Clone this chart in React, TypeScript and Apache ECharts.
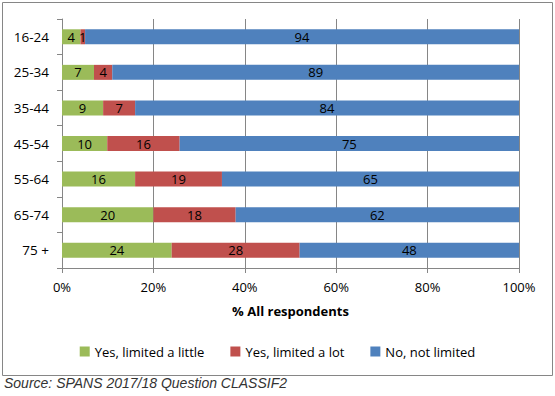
import React, { useEffect, useRef } from "react";
import * as echarts from "echarts";

const categories = ["16-24", "25-34", "35-44", "45-54", "55-64", "65-74", "75 +"];
const limitedLittle = [4, 7, 9, 10, 16, 20, 24];
const limitedLot = [1, 4, 7, 16, 19, 18, 28];
const notLimited = [94, 89, 84, 75, 65, 62, 48];
const seriesNames = ["Yes, limited a little", "Yes, limited a lot", "No, not limited"];
const colors = ["#9BBB59", "#C0504D", "#4F81BD"];

const FONT = "Open Sans";

export default function App() {
  const ref = useRef<HTMLDivElement>(null);
  useEffect(() => {
    document.body.style.margin = "0";
    if (!ref.current) return;
    const chart = echarts.init(ref.current, undefined, { renderer: "svg" });
    const all = [limitedLittle, limitedLot, notLimited];
    const totals = categories.map((_, i) => all.reduce((s, arr) => s + arr[i], 0));
    const series = all.map((arr, si) => ({
      name: seriesNames[si],
      type: "bar",
      stack: "total",
      barWidth: 15,
      itemStyle: { color: colors[si] },
      label: {
        show: true,
        position: "inside",
        color: "#000",
        fontFamily: FONT,
        fontSize: 13,
        formatter: (p: any) => String(arr[p.dataIndex]),
      },
      data: arr.map((v, i) => (v / totals[i]) * 100),
    }));
    chart.setOption({
      animation: false,
      grid: { left: 62, right: 36, top: 19, bottom: 128, containLabel: false },
      legend: {
        bottom: 33,
        left: "center",
        itemWidth: 10,
        itemHeight: 10,
        itemGap: 26,
        icon: "rect",
        textStyle: { fontFamily: FONT, fontSize: 13, color: "#000" },
        data: seriesNames,
      },
      xAxis: {
        type: "value",
        min: 0,
        max: 100,
        interval: 20,
        name: "% All respondents",
        nameLocation: "middle",
        nameGap: 36,
        nameTextStyle: { fontFamily: FONT, fontSize: 13, fontWeight: "bold", color: "#000" },
        axisLine: { show: true, lineStyle: { color: "#868686" } },
        axisTick: { show: true, length: 5, lineStyle: { color: "#868686" } },
        axisLabel: {
          fontFamily: FONT,
          fontSize: 13,
          color: "#000",
          margin: 12,
          formatter: (v: number) => v + "%",
        },
        splitLine: { show: true, lineStyle: { color: "#868686" } },
      },
      yAxis: {
        type: "category",
        inverse: true,
        data: categories,
        axisLine: { show: true, lineStyle: { color: "#868686" } },
        axisTick: { show: true, length: 5, lineStyle: { color: "#868686" } },
        axisLabel: { fontFamily: FONT, fontSize: 13.5, color: "#000", margin: 13 },
      },
      graphic: [
        {
          type: "rect",
          shape: { x: 2.5, y: 2.5, width: 550, height: 373 },
          style: { fill: "none", stroke: "#868686", lineWidth: 1 },
          silent: true,
        },
        {
          type: "text",
          left: 4,
          top: 376,
          style: {
            text: "Source: SPANS 2017/18 Question CLASSIF2",
            fontFamily: "Liberation Sans",
            fontStyle: "italic",
            fontSize: 14,
            fill: "#333",
          },
        },
      ],
      series,
    });
    return () => chart.dispose();
  }, []);
  return <div ref={ref} style={{ width: 555, height: 396 }} />;
}
